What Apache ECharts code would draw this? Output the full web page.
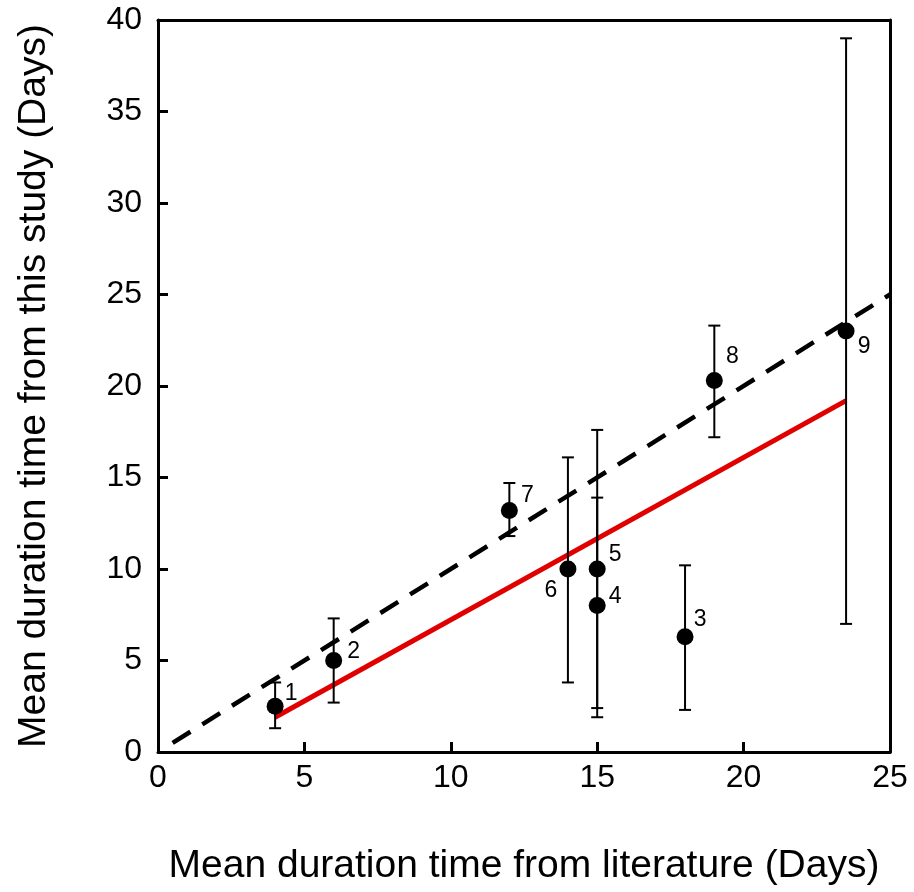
<!DOCTYPE html>
<html>
<head>
<meta charset="utf-8">
<script src="https://cdn.jsdelivr.net/npm/echarts@6/dist/echarts.min.js"></script>
<style>
  html, body { margin: 0; padding: 0; background: #fff; }
  #chart { width: 914px; height: 892px; }
</style>
</head>
<body>
<div id="chart"></div>
<script>
// point labels and values
var pointIds   = ['1', '2', '3', '4', '5', '6', '7', '8', '9'];
var literature = [4, 6, 18, 15, 15, 14, 12, 19, 23.5];
var thisStudy  = [2.5, 5, 6.3, 8, 10, 10, 13.2, 20.3, 23];
var errLow     = [1.3, 2.7, 2.3, 1.9, 2.4, 3.8, 11.8, 17.2, 7];
var errHigh    = [3.8, 7.3, 10.2, 13.9, 17.6, 16.1, 14.7, 23.3, 39];

// 1:1 line and fitted regression line
var identityX = [0.5, 25];
var identityY = [0.5, 25];
var fitX = [4, 23.5];
var fitY = [1.9, 19.2];

var xTicks = [0, 5, 10, 15, 20, 25];
var yTicks = [0, 5, 10, 15, 20, 25, 30, 35, 40];

// label offsets (px) around each point
var labelOffsets = [[16, -13], [20, -9], [15, -17], [18, -9], [18, -14], [-17, 22], [18, -15], [18, -24], [18, 16]];

var font = 'Liberation Sans, Arial, sans-serif';

function pairs(xs, ys) {
  return xs.map(function (x, i) { return [x, ys[i]]; });
}

var pointData = literature.map(function (x, i) {
  return {
    value: [x, thisStudy[i]],
    name: pointIds[i],
    label: {
      show: true,
      position: 'inside',
      offset: labelOffsets[i],
      formatter: pointIds[i],
      color: '#000',
      fontSize: 23,
      fontFamily: font
    }
  };
});

var barData = literature.map(function (x, i) {
  return [x, errLow[i], errHigh[i]];
});

var chart = echarts.init(document.getElementById('chart'));

chart.setOption({
  animation: false,
  backgroundColor: '#fff',
  grid: { left: 158, right: 24, top: 20, bottom: 140 },
  xAxis: [{
    type: 'value',
    min: 0, max: 25, interval: 5,
    name: 'Mean duration time from literature (Days)',
    nameLocation: 'middle',
    nameGap: 95,
    nameTextStyle: { fontSize: 39, fontFamily: font, color: '#000' },
    axisLine: { show: true, onZero: false, lineStyle: { color: '#000', width: 3 } },
    axisTick: { show: true, inside: true, length: 10, lineStyle: { color: '#000', width: 3 } },
    axisLabel: { fontSize: 32, fontFamily: font, color: '#000', margin: 10,
      formatter: function (v) { return xTicks.indexOf(v) >= 0 ? String(v) : ''; } },
    splitLine: { show: false }
  }, {
    type: 'value', position: 'top', min: 0, max: 25,
    axisLine: { show: true, onZero: false, lineStyle: { color: '#000', width: 3 } },
    axisTick: { show: false }, axisLabel: { show: false }, splitLine: { show: false }
  }],
  yAxis: [{
    type: 'value',
    min: 0, max: 40, interval: 5,
    name: 'Mean duration time from this study (Days)',
    nameLocation: 'middle',
    nameGap: 104,
    nameTextStyle: { fontSize: 39, fontFamily: font, color: '#000' },
    axisLine: { show: true, onZero: false, lineStyle: { color: '#000', width: 3 } },
    axisTick: { show: true, inside: true, length: 10, lineStyle: { color: '#000', width: 3 } },
    axisLabel: { fontSize: 32, fontFamily: font, color: '#000', margin: 16,
      formatter: function (v) { return yTicks.indexOf(v) >= 0 ? String(v) : ''; } },
    splitLine: { show: false }
  }, {
    type: 'value', position: 'right', min: 0, max: 40,
    axisLine: { show: true, onZero: false, lineStyle: { color: '#000', width: 3 } },
    axisTick: { show: false }, axisLabel: { show: false }, splitLine: { show: false }
  }],
  series: [
    {
      type: 'line',
      data: pairs(identityX, identityY),
      symbol: 'none',
      lineStyle: { color: '#000', width: 4.5, type: [21, 14] },
      z: 2
    },
    {
      type: 'line',
      data: pairs(fitX, fitY),
      symbol: 'none',
      lineStyle: { color: '#e00000', width: 5 },
      z: 3
    },
    {
      type: 'custom',
      data: barData,
      z: 4,
      renderItem: function (params, api) {
        var x = api.value(0);
        var lo = api.coord([x, api.value(1)]);
        var hi = api.coord([x, api.value(2)]);
        var cap = 6;
        var style = { stroke: '#000', lineWidth: 2 };
        return {
          type: 'group',
          children: [
            { type: 'line', shape: { x1: lo[0], y1: lo[1], x2: hi[0], y2: hi[1] }, style: style },
            { type: 'line', shape: { x1: lo[0] - cap, y1: lo[1], x2: lo[0] + cap, y2: lo[1] }, style: style },
            { type: 'line', shape: { x1: hi[0] - cap, y1: hi[1], x2: hi[0] + cap, y2: hi[1] }, style: style }
          ]
        };
      }
    },
    {
      type: 'scatter',
      data: pointData,
      symbol: 'circle',
      symbolSize: 17,
      itemStyle: { color: '#000', opacity: 1 },
      z: 5
    }
  ]
});
</script>
</body>
</html>
